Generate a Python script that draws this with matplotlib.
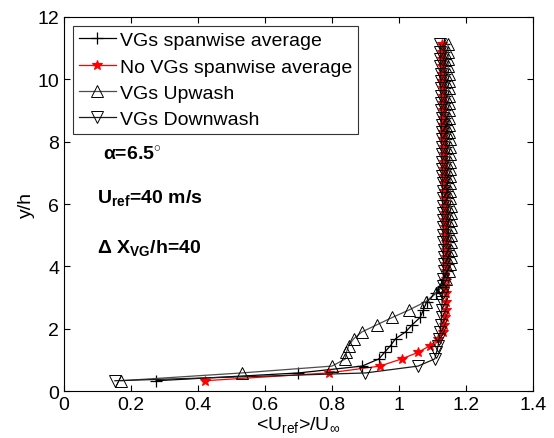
import matplotlib
matplotlib.use('Agg')
import matplotlib.pyplot as plt

plt.rcParams['font.family'] = ['Liberation Sans', 'DejaVu Sans']
plt.rcParams['mathtext.fontset'] = 'custom'
plt.rcParams['mathtext.rm'] = 'Liberation Sans'
plt.rcParams['mathtext.bf'] = 'Liberation Sans:bold'
plt.rcParams['mathtext.it'] = 'Liberation Sans:italic'

# wall-normal positions y/h
y_h = [0.33, 0.58, 0.80, 1.03, 1.24, 1.46, 1.68, 1.90, 2.13, 2.36, 2.60, 2.87, 3.14,
       3.37, 3.60, 3.84, 4.07, 4.31, 4.54, 4.78, 5.01, 5.25, 5.48, 5.72, 5.95, 6.19,
       6.42, 6.66, 6.89, 7.13, 7.36, 7.60, 7.83, 8.07, 8.30, 8.54, 8.77, 9.01, 9.24,
       9.48, 9.71, 9.95, 10.18, 10.42, 10.65, 10.89, 11.12]

u_vg_avg = [0.275, 0.70, 0.89, 0.94, 0.957, 0.975, 0.99, 1.02, 1.04, 1.063, 1.073, 1.083, 1.11,
            1.13, 1.138, 1.142, 1.145, 1.145, 1.146, 1.146, 1.145, 1.145, 1.144, 1.144, 1.143,
            1.143, 1.142, 1.142, 1.141, 1.141, 1.140, 1.140, 1.140, 1.139, 1.139, 1.139, 1.138,
            1.138, 1.138, 1.137, 1.137, 1.137, 1.136, 1.136, 1.136, 1.135, 1.135]

u_novg_avg = [0.42, 0.79, 0.943, 1.008, 1.057, 1.093, 1.118, 1.13, 1.135, 1.138, 1.14, 1.141, 1.141,
              1.138, 1.139, 1.14, 1.14, 1.14, 1.139, 1.139, 1.138, 1.138, 1.137, 1.137, 1.136,
              1.136, 1.135, 1.135, 1.134, 1.134, 1.133, 1.133, 1.133, 1.132, 1.132, 1.131, 1.131,
              1.131, 1.130, 1.130, 1.130, 1.129, 1.129, 1.129, 1.128, 1.128, 1.128]

u_upwash = [0.17, 0.53, 0.80, 0.84, 0.843, 0.85, 0.865, 0.89, 0.935, 0.98, 1.03, 1.08, 1.11,
            1.127, 1.14, 1.148, 1.152, 1.154, 1.155, 1.155, 1.155, 1.155, 1.154, 1.154, 1.154,
            1.153, 1.153, 1.153, 1.152, 1.152, 1.152, 1.151, 1.151, 1.151, 1.150, 1.150, 1.150,
            1.149, 1.149, 1.149, 1.148, 1.148, 1.148, 1.147, 1.147, 1.147, 1.146]

u_downwash = [0.152, 0.90, 1.057, 1.107, 1.112, 1.117, 1.12, 1.123, 1.125, 1.127, 1.128, 1.129, 1.13,
              1.131, 1.132, 1.133, 1.133, 1.133, 1.133, 1.132, 1.132, 1.132, 1.131, 1.131, 1.131,
              1.130, 1.130, 1.130, 1.129, 1.129, 1.129, 1.128, 1.128, 1.128, 1.127, 1.127, 1.127,
              1.126, 1.126, 1.126, 1.125, 1.125, 1.125, 1.124, 1.124, 1.124, 1.123]

fig = plt.figure(figsize=(5.54, 4.39), dpi=100)
ax = fig.add_axes([0.1155, 0.107, 0.8465, 0.852])

ax.plot(u_vg_avg, y_h, color='k', lw=0.9, marker='+', ms=8, mew=0.9,
        label='VGs spanwise average')
ax.plot(u_novg_avg, y_h, color='red', lw=0.9, marker='*', ms=7, mew=0.8,
        label='No VGs spanwise average')
ax.plot(u_upwash, y_h, color='0.3', lw=0.9, marker='^', ms=8, mfc='none', mec='k',
        mew=0.7, label='VGs Upwash')
ax.plot(u_downwash, y_h, color='0.1', lw=0.9, marker='v', ms=8, mfc='none', mec='k',
        mew=0.7, label='VGs Downwash')

ax.set_xlim(0, 1.4)
ax.set_ylim(0, 12)
ax.set_xticks([0, 0.2, 0.4, 0.6, 0.8, 1, 1.2, 1.4])
ax.set_xticklabels(['0', '0.2', '0.4', '0.6', '0.8', '1', '1.2', '1.4'])
ax.set_yticks(range(0, 13, 2))
ax.tick_params(direction='in', top=True, right=True, labelsize=14, length=4)
ax.set_xlabel(r'<U$_{\rm ref}$>/U$_{\infty}$', fontsize=14, labelpad=1)
ax.set_ylabel('y/h', fontsize=14, labelpad=2)

leg = ax.legend(loc='upper left', fontsize=14, frameon=True, fancybox=False,
                edgecolor='k', handlelength=1.9, handletextpad=0.25,
                borderpad=0.3, labelspacing=0.45, borderaxespad=0.45)
leg.get_frame().set_linewidth(0.8)

ax.text(0.083, 0.62, '\u03b1=6.5$^{\\circ}$', transform=ax.transAxes,
        fontsize=14, fontweight='bold')
ax.text(0.07, 0.505, r'$\mathbf{U_{ref}}$=40 m/s', transform=ax.transAxes,
        fontsize=14, fontweight='bold')
ax.text(0.07, 0.371, r'$\mathbf{\Delta}$ $\mathbf{X_{VG}}$/h=40', transform=ax.transAxes,
        fontsize=14, fontweight='bold')

fig.savefig('out.png', dpi=100)
